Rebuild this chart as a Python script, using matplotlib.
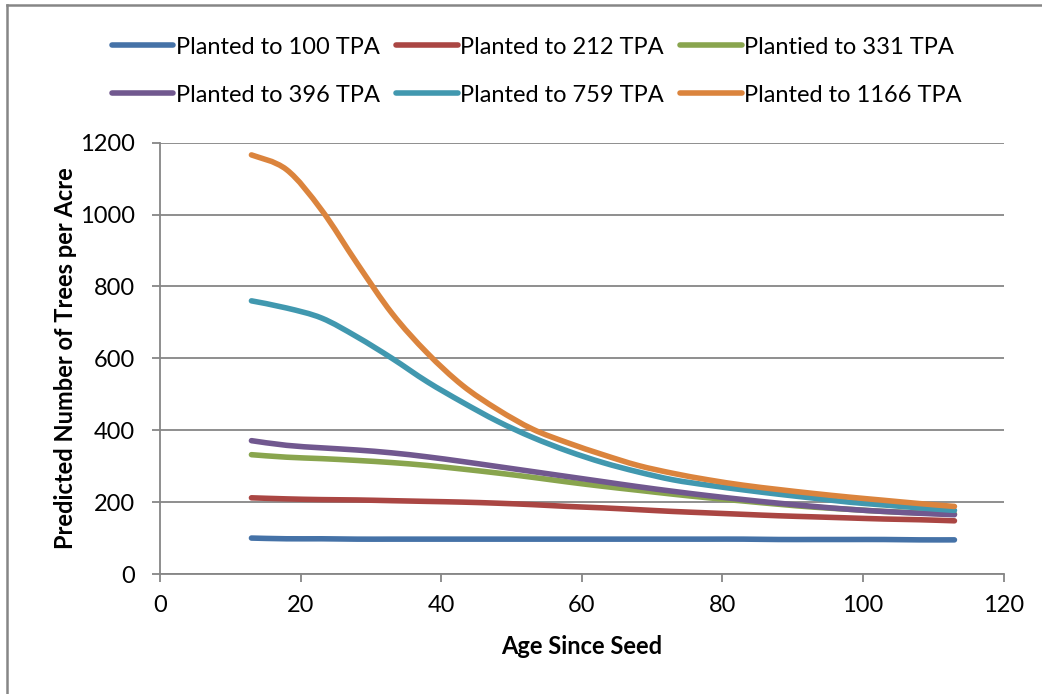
import numpy as np
import matplotlib.pyplot as plt
from matplotlib.lines import Line2D
from matplotlib.path import Path
from matplotlib.patches import PathPatch

# age since seed (years)
age = [13, 18, 23, 28, 33, 38, 43, 48, 53, 58, 63, 68, 73, 78, 83, 88, 93, 98, 103, 108, 113]

# predicted trees per acre for each planting density
tpa_100 = [100, 98, 98, 97, 97, 97, 97, 97, 97, 97, 97, 97, 97, 97, 97, 96, 96, 96, 96, 95, 95]
tpa_212 = [212, 209, 207, 206, 204, 202, 200, 197, 193, 188, 184, 179, 174, 170, 166, 162, 159, 156, 153, 151, 148]
tpa_331 = [332, 325, 321, 316, 310, 302, 292, 281, 269, 256, 244, 233, 222, 212, 203, 194, 186, 180, 174, 170, 167]
tpa_396 = [371, 358, 351, 345, 337, 326, 313, 299, 285, 271, 257, 243, 230, 218, 207, 197, 188, 180, 174, 169, 165]
tpa_759 = [760, 740, 712, 660, 600, 535, 478, 425, 380, 342, 310, 284, 262, 247, 234, 222, 211, 200, 192, 184, 177]
tpa_1166 = [1166, 1125, 1012, 865, 725, 615, 525, 458, 403, 365, 332, 302, 280, 262, 247, 235, 224, 214, 205, 196, 188]

labels = ['Planted to 100 TPA', 'Planted to 212 TPA', 'Plantied to 331 TPA',
          'Planted to 396 TPA', 'Planted to 759 TPA', 'Planted to 1166 TPA']
series = [tpa_100, tpa_212, tpa_331, tpa_396, tpa_759, tpa_1166]
colors = ['#4572A7', '#AA4643', '#89A54E', '#71588F', '#4198AF', '#DB843D']

plt.rcParams['font.family'] = ['Lato', 'DejaVu Sans']
grid_col = '#868686'
lw = 4.0


# smoothed line like Excel's: Catmull-Rom segments drawn as Bezier curves
def smooth_path(x, y):
    pts = np.column_stack([x, y]).astype(float)
    verts = [pts[0]]
    codes = [Path.MOVETO]
    n = len(pts)
    for i in range(n - 1):
        p0 = pts[max(i - 1, 0)]
        p1 = pts[i]
        p2 = pts[i + 1]
        p3 = pts[min(i + 2, n - 1)]
        c1 = p1 + (p2 - p0) / 6.0
        c2 = p2 - (p3 - p1) / 6.0
        verts += [c1, c2, p2]
        codes += [Path.CURVE4] * 3
    return Path(verts, codes)


fig = plt.figure(figsize=(10.42, 6.94), dpi=100)
ax = fig.add_axes([0.1536, 0.1729, 0.8096, 0.6215])

handles = []
for vals, col, lab in zip(series, colors, labels):
    patch = PathPatch(smooth_path(age, vals), facecolor='none', edgecolor=col,
                      linewidth=lw, capstyle='round', zorder=3)
    ax.add_patch(patch)
    handles.append(Line2D([0], [0], color=col, linewidth=lw, solid_capstyle='round', label=lab))

ax.set_xlim(0, 120)
ax.set_ylim(0, 1200)
ax.set_xticks(range(0, 121, 20))
ax.set_yticks(range(0, 1201, 200))
ax.yaxis.grid(True, color=grid_col, linewidth=1.3)
ax.set_axisbelow(True)
for s in ['top', 'right']:
    ax.spines[s].set_visible(False)
for s in ['left', 'bottom']:
    ax.spines[s].set_color(grid_col)
    ax.spines[s].set_linewidth(1.3)
ax.tick_params(axis='both', direction='out', length=6, width=1.3, color=grid_col,
               labelsize=17)
ax.tick_params(axis='y', pad=12)
ax.tick_params(axis='x', pad=9)

ax.set_xlabel('Age Since Seed', fontsize=17, fontweight='bold', labelpad=14)
ax.set_ylabel('Predicted Number of Trees per Acre', fontsize=17, fontweight='bold', labelpad=2)

# legend is filled row by row in the reference
order = [0, 3, 1, 4, 2, 5]
fig.legend([handles[i] for i in order], [labels[i] for i in order], ncol=3,
           loc='upper left', bbox_to_anchor=(0.087, 0.978), frameon=False,
           fontsize=17, handlelength=2.6, handletextpad=0.12, columnspacing=0.68,
           labelspacing=1.15)

# outer chart border (only left and top visible)
fig.add_artist(Line2D([0.0065, 0.0065], [0, 0.9935], color=grid_col, linewidth=1.8,
                      transform=fig.transFigure))
fig.add_artist(Line2D([0.0065, 1], [0.9935, 0.9935], color=grid_col, linewidth=1.8,
                      transform=fig.transFigure))

fig.savefig('out.png', dpi=100)
